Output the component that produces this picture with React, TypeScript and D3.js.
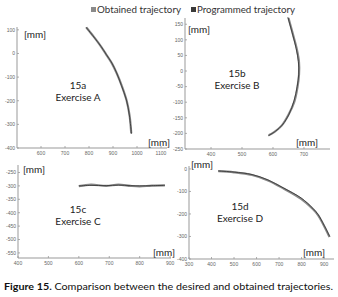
import React from "react";
import * as d3 from "d3";

type Pt = [number, number];

const legendLabels = ["Obtained trajectory", "Programmed trajectory"];
const seriesColors = ["#8a8a8a", "#3a3a3a"];

// Panel A
const aProgrammed: Pt[] = [[787, 112], [820, 70], [850, 30], [873, -6], [895, -40], [915, -82], [935, -135], [956, -197], [968, -260], [977, -340]];
const aObtained: Pt[] = [[789, 110], [822, 68], [851, 28], [874, -8], [896, -43], [916, -85], [937, -138], [957, -200], [969, -262], [976, -338]];
const aXTicks = [600, 700, 800, 900, 1000, 1100];
const aYTicks = [100, 0, -100, -200, -300, -400];

// Panel B
const bProgrammed: Pt[] = [[648, 173], [664, 115], [675, 72], [682, 30], [683, -10], [678, -50], [668, -95], [652, -138], [630, -173], [608, -193], [584, -208]];
const bObtained: Pt[] = [[650, 170], [666, 112], [677, 70], [684, 28], [684, -12], [679, -52], [669, -98], [650, -140], [628, -175], [606, -194], [586, -206]];
const bXTicks = [400, 500, 600, 700];
const bYTicks = [150, 100, 50, 0, -50, -100, -150, -200, -250];

// Panel C
const cProgrammed: Pt[] = [[600, -300], [640, -298], [690, -299], [730, -297], [770, -299], [800, -300], [840, -299], [883, -298]];
const cObtained: Pt[] = [[600, -301], [640, -295], [690, -300], [730, -295], [770, -300], [800, -302], [840, -299], [883, -298]];
const cXTicks = [400, 500, 600, 700, 800, 900];
const cYTicks = [-250, -300, -350, -400, -450, -500, -550];

// Panel D
const dProgrammed: Pt[] = [[429, -9], [500, -14], [580, -25], [651, -49], [720, -85], [798, -129], [850, -175], [873, -202], [900, -250], [925, -300]];
const dObtained: Pt[] = [[430, -10], [500, -15], [580, -27], [651, -51], [720, -87], [798, -133], [850, -178], [873, -205], [900, -253], [924, -302]];
const dXTicks = [300, 400, 500, 600, 700, 800, 900];
const dYTicks = [0, -100, -200, -300, -400];

const FONT = "Lato, 'Open Sans', sans-serif";

interface PanelProps {
  px: [number, number];
  py: [number, number];
  xd: [number, number];
  yd: [number, number];
  xTicks: number[];
  yTicks: number[];
  programmed: Pt[];
  obtained: Pt[];
  title: string;
  sub: string;
  titlePos: [number, number];
  unitTop: [number, number];
  unitBottom: [number, number];
}

function Panel(p: PanelProps) {
  const x = d3.scaleLinear().domain(p.xd).range(p.px);
  const y = d3.scaleLinear().domain(p.yd).range(p.py);
  const line = d3.line<Pt>().x(d => x(d[0])).y(d => y(d[1])).curve(d3.curveCatmullRom);
  const x0 = p.px[0];
  const y0 = p.py[0];
  return (
    <g>
      <line x1={x0} x2={x0} y1={p.py[0]} y2={p.py[1]} stroke="#999" strokeWidth={1} />
      <line x1={p.px[0]} x2={p.px[1]} y1={y0} y2={y0} stroke="#999" strokeWidth={1} />
      {p.yTicks.map(t => (
        <g key={"y" + t}>
          <line x1={x0} x2={x0 + 2} y1={y(t)} y2={y(t)} stroke="#999" strokeWidth={0.8} />
          <text x={x0 - 2} y={y(t) + 1.8} fontSize={5} fill="#666" textAnchor="end" fontFamily="Arial, sans-serif">{t}</text>
        </g>
      ))}
      {p.xTicks.map(t => (
        <g key={"x" + t}>
          <line x1={x(t)} x2={x(t)} y1={y0} y2={y0 - 2} stroke="#999" strokeWidth={0.8} />
          <text x={x(t)} y={y0 + 7} fontSize={5} fill="#666" textAnchor="middle" fontFamily="Arial, sans-serif">{t}</text>
        </g>
      ))}
      <path d={line(p.obtained) || ""} fill="none" stroke={seriesColors[0]} strokeWidth={2.2} />
      <path d={line(p.programmed) || ""} fill="none" stroke={seriesColors[1]} strokeWidth={0.9} />
      <text x={p.unitTop[0]} y={p.unitTop[1]} fontSize={10} fill="#222" fontFamily={FONT} textLength={22} lengthAdjust="spacingAndGlyphs">[mm]</text>
      <text x={p.unitBottom[0]} y={p.unitBottom[1]} fontSize={10} fill="#222" fontFamily={FONT} textLength={22} lengthAdjust="spacingAndGlyphs">[mm]</text>
      <text x={p.titlePos[0]} y={p.titlePos[1]} fontSize={10} fill="#222" textAnchor="middle" fontFamily={FONT}>{p.title}</text>
      <text x={p.titlePos[0]} y={p.titlePos[1] + 12} fontSize={10} fill="#222" textAnchor="middle" fontFamily={FONT}>{p.sub}</text>
    </g>
  );
}

export default function App() {
  return (
    <svg width={338} height={297} style={{ position: "absolute", left: 0, top: 0, background: "#fff" }}>
      <rect x={0} y={0} width={338} height={297} fill="#fff" />
      {/* legend */}
      <rect x={91} y={7} width={5} height={5} fill={seriesColors[0]} />
      <text x={97} y={12.5} fontSize={9.5} fill="#333" fontFamily={FONT} textLength={84} lengthAdjust="spacingAndGlyphs">{legendLabels[0]}</text>
      <rect x={191} y={7} width={5} height={5} fill={seriesColors[1]} />
      <text x={197} y={12.5} fontSize={9.5} fill="#333" fontFamily={FONT} textLength={98} lengthAdjust="spacingAndGlyphs">{legendLabels[1]}</text>

      <Panel px={[17, 167]} py={[148, 27]} xd={[500, 1125]} yd={[-400, 112]} xTicks={aXTicks} yTicks={aYTicks}
        programmed={aProgrammed} obtained={aObtained} title="15a" sub="Exercise A" titlePos={[78, 89]}
        unitTop={[24, 38]} unitBottom={[148, 146]} />
      <Panel px={[185, 330]} py={[149, 18]} xd={[316, 784]} yd={[-250, 170]} xTicks={bXTicks} yTicks={bYTicks}
        programmed={bProgrammed} obtained={bObtained} title="15b" sub="Exercise B" titlePos={[237, 77]}
        unitTop={[188, 33]} unitBottom={[296, 146]} />
      <Panel px={[18, 171]} py={[258, 165]} xd={[400, 903]} yd={[-569, -222]} xTicks={cXTicks} yTicks={cYTicks}
        programmed={cProgrammed} obtained={cObtained} title="15c" sub="Exercise C" titlePos={[78, 213]}
        unitTop={[23, 173]} unitBottom={[153, 256]} />
      <Panel px={[189, 334]} py={[259, 166]} xd={[300, 944]} yd={[-400, 13]} xTicks={dXTicks} yTicks={dYTicks}
        programmed={dProgrammed} obtained={dObtained} title="15d" sub="Exercise D" titlePos={[240, 210]}
        unitTop={[191, 168]} unitBottom={[303, 256]} />

      <text x={4} y={290} fontSize={10.2} fill="#111" fontFamily={FONT} textLength={329} lengthAdjust="spacingAndGlyphs">
        <tspan fontWeight="bold">Figure 15.</tspan>
        <tspan> Comparison between the desired and obtained trajectories.</tspan>
      </text>
    </svg>
  );
}
